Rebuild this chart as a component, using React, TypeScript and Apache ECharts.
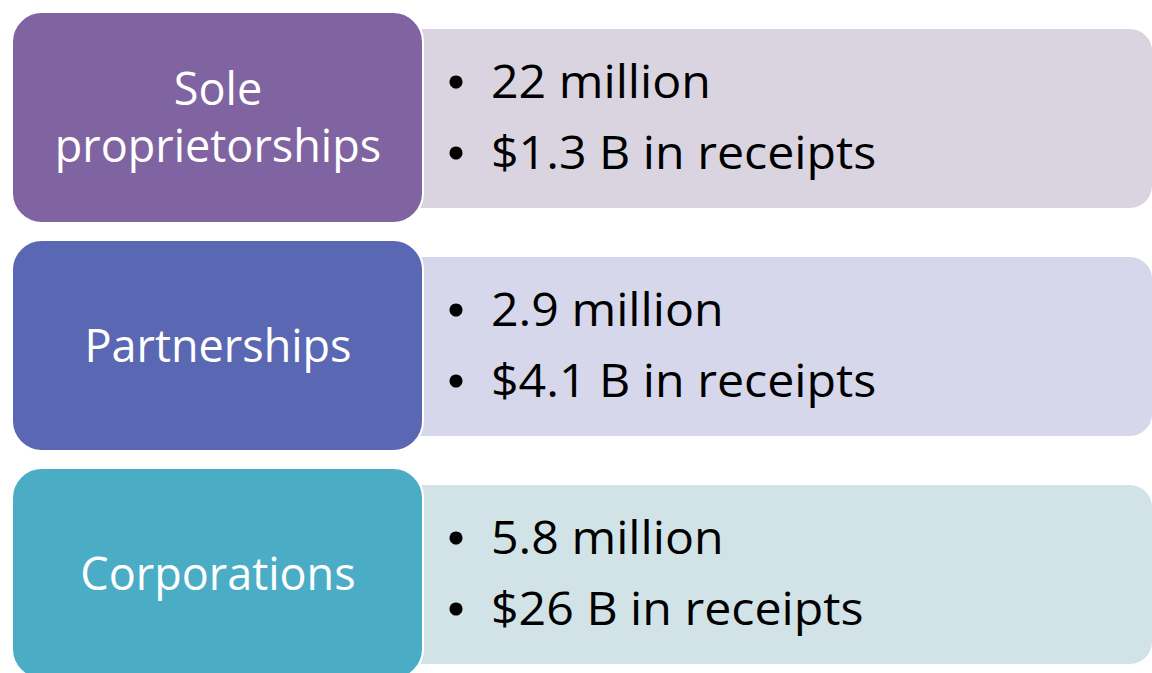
import React, { useEffect, useRef } from "react";
import * as echarts from "echarts";

const categories = ["Sole\nproprietorships", "Partnerships", "Corporations"];
const counts = ["22 million", "2.9 million", "5.8 million"];
const receipts = ["$1.3 B in receipts", "$4.1 B in receipts", "$26 B in receipts"];
const boxColors = ["#8064A2", "#5A67B3", "#4BACC6"];
const panelColors = ["#DAD4E0", "#D6D7EA", "#D2E3E8"];

const FONT = "'Open Sans', sans-serif";

export default function App() {
  const ref = useRef<HTMLDivElement>(null);
  useEffect(() => {
    if (!ref.current) return;
    const chart = echarts.init(ref.current, null, { renderer: "svg" });
    const rowStep = 228;
    const elements: any[] = [];
    categories.forEach((cat, i) => {
      const top = 12 + i * rowStep;
      elements.push({
        type: "rect",
        shape: { x: 400, y: top + 17, width: 752, height: 179, r: 22 },
        style: { fill: panelColors[i] },
        z: 1,
      });
      elements.push({
        type: "rect",
        shape: { x: 12, y: top, width: 411, height: 211, r: 30 },
        style: { fill: boxColors[i], stroke: "#ffffff", lineWidth: 2 },
        z: 2,
      });
      const lines = cat.split("\n");
      const titleStyle = { fill: "#ffffff", fontSize: 45, fontFamily: FONT, textAlign: "center", textVerticalAlign: "middle" };
      if (lines.length === 2) {
        elements.push({ type: "text", x: 218, y: top + 75, style: { ...titleStyle, text: lines[0] }, z: 3 });
        elements.push({ type: "text", x: 218, y: top + 132, style: { ...titleStyle, text: lines[1] }, z: 3 });
      } else {
        elements.push({ type: "text", x: 218, y: top + 104, style: { ...titleStyle, text: lines[0] }, z: 3 });
      }
      const items = [counts[i], receipts[i]];
      items.forEach((t, j) => {
        const cy = top + 70 + j * 71;
        elements.push({
          type: "circle",
          shape: { cx: 456, cy: cy, r: 6.5 },
          style: { fill: "#000000" },
          z: 3,
        });
        elements.push({
          type: "text",
          x: 491,
          y: cy - 2,
          scaleX: 1.05,
          style: { text: t, fill: "#000000", fontSize: 46, fontFamily: FONT, textAlign: "left", textVerticalAlign: "middle" },
          z: 3,
        });
      });
    });
    chart.setOption({
      animation: false,
      backgroundColor: "#ffffff",
      graphic: { elements },
    });
    return () => chart.dispose();
  }, []);
  return <div ref={ref} style={{ position: "fixed", left: 0, top: 0, width: 1152, height: 673 }} />;
}
